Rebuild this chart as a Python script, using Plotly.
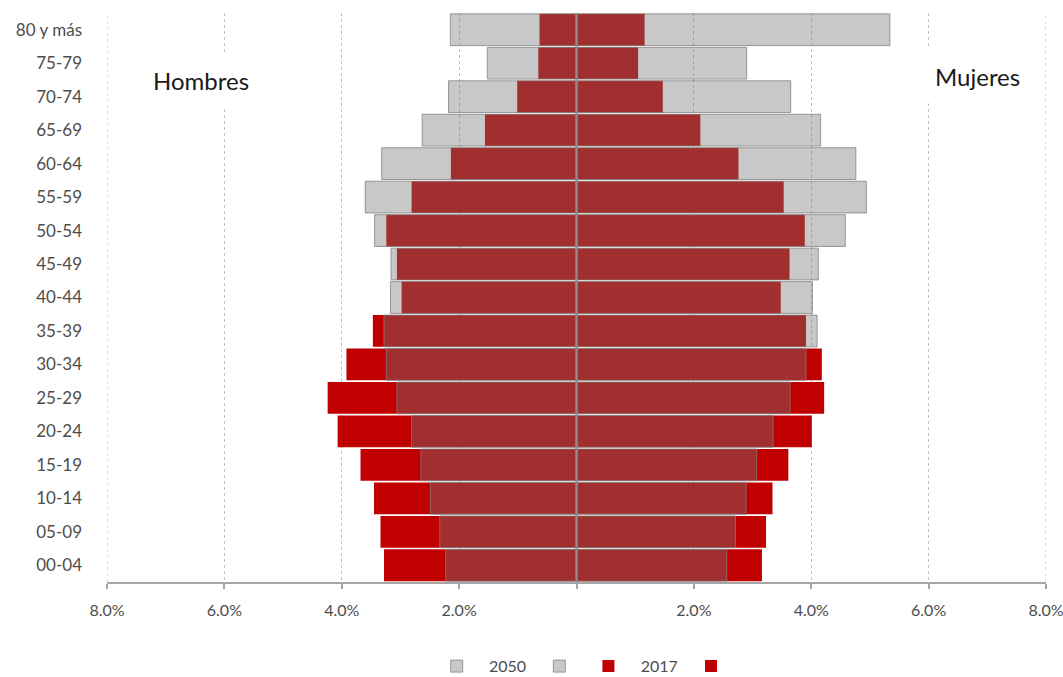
import plotly.graph_objects as go

# ---- data (percent of total population) ----
age_groups = ["00-04", "05-09", "10-14", "15-19", "20-24", "25-29", "30-34", "35-39",
              "40-44", "45-49", "50-54", "55-59", "60-64", "65-69", "70-74", "75-79", "80 y más"]
hombres_2017 = [3.28, 3.34, 3.45, 3.68, 4.07, 4.24, 3.92, 3.47, 2.98, 3.06, 3.24, 2.81, 2.14, 1.56, 1.01, 0.65, 0.63]
hombres_2050 = [2.23, 2.33, 2.49, 2.65, 2.81, 3.06, 3.24, 3.28, 3.17, 3.16, 3.44, 3.60, 3.32, 2.63, 2.18, 1.52, 2.15]
mujeres_2017 = [3.16, 3.23, 3.34, 3.61, 4.01, 4.22, 4.18, 3.91, 3.48, 3.63, 3.89, 3.53, 2.76, 2.11, 1.47, 1.05, 1.16]
mujeres_2050 = [2.56, 2.71, 2.89, 3.07, 3.35, 3.64, 3.91, 4.10, 4.02, 4.12, 4.58, 4.94, 4.76, 4.16, 3.65, 2.90, 5.34]
x_tick_values = [-8, -6, -4, -2, 0, 2, 4, 6, 8]
x_tick_labels = ["8.0%", "6.0%", "4.0%", "2.0%", "", "2.0%", "4.0%", "6.0%", "8.0%"]

RED = "#C00000"
GRAY_FILL = "rgba(118,118,118,0.40)"
GRAY_LINE = "rgba(125,125,125,0.75)"
GRID = "#BDBDBD"
TEXT = "#4D4D4D"
FONT = "Lato, 'Open Sans', sans-serif"
NB = "\u00a0"

fig = go.Figure()
fig.add_trace(go.Bar(y=age_groups, x=[-v for v in hombres_2017], orientation="h",
                     name=NB * 3 + "2017" + NB * 2, legendrank=3,
                     marker=dict(color=RED, line=dict(width=0))))
fig.add_trace(go.Bar(y=age_groups, x=mujeres_2017, orientation="h",
                     name=NB, legendrank=4,
                     marker=dict(color=RED, line=dict(width=0))))
fig.add_trace(go.Bar(y=age_groups, x=[-v for v in hombres_2050], orientation="h",
                     name=NB * 3 + "2050" + NB * 2, legendrank=1,
                     marker=dict(color=GRAY_FILL, line=dict(color=GRAY_LINE, width=1))))
fig.add_trace(go.Bar(y=age_groups, x=mujeres_2050, orientation="h",
                     name=NB, legendrank=2,
                     marker=dict(color=GRAY_FILL, line=dict(color=GRAY_LINE, width=1))))

edge_lines = [dict(type="line", xref="x", yref="paper", x0=v, x1=v, y0=0, y1=1,
                   line=dict(color=GRID, width=1, dash="dot"), layer="below")
              for v in (x_tick_values[0], x_tick_values[-1])]

fig.update_layout(
    width=1063, height=677,
    margin=dict(l=107, r=17, t=13, b=95, autoexpand=False),
    barmode="overlay", bargap=0.05,
    plot_bgcolor="white", paper_bgcolor="white",
    font=dict(family=FONT, size=17, color=TEXT),
    showlegend=True,
    legend=dict(orientation="h", x=0.513, xanchor="center", y=-0.148, yanchor="middle",
                font=dict(family=FONT, size=16, color=TEXT), traceorder="normal",
                itemclick=False, bgcolor="rgba(0,0,0,0)"),
    xaxis=dict(range=[-8, 8], tickvals=x_tick_values, ticktext=x_tick_labels,
               showgrid=True, gridcolor=GRID, griddash="dot", gridwidth=1,
               zeroline=False, showline=True, linecolor="#A6A6A6", linewidth=2,
               ticks="outside", ticklen=5, tickwidth=2, tickcolor="#A6A6A6",
               tickfont=dict(family=FONT, size=16, color=TEXT), ticklabelstandoff=8,
               ticklabeloverflow="allow"),
    yaxis=dict(type="category", categoryorder="array", categoryarray=age_groups,
               showgrid=False, zeroline=False, showline=False, ticks="",
               tickfont=dict(family=FONT, size=17, color=TEXT), ticklabelstandoff=24),
    shapes=edge_lines + [dict(type="line", xref="x", yref="paper", x0=0, x1=0, y0=0, y1=1,
                              line=dict(color="#8C8C8C", width=2.5), layer="above")],
    annotations=[
        dict(text="Hombres", x=-6.40, y=0.882, xref="x", yref="paper", showarrow=False,
             xanchor="center", yanchor="middle",
             font=dict(family=FONT, size=24, color="#1a1a1a"), bgcolor="white", borderpad=12),
        dict(text="Mujeres", x=6.84, y=0.888, xref="x", yref="paper", showarrow=False,
             xanchor="center", yanchor="middle",
             font=dict(family=FONT, size=24, color="#1a1a1a"), bgcolor="white", borderpad=12),
    ],
)

fig.write_html("out.html", config={"displayModeBar": False})
